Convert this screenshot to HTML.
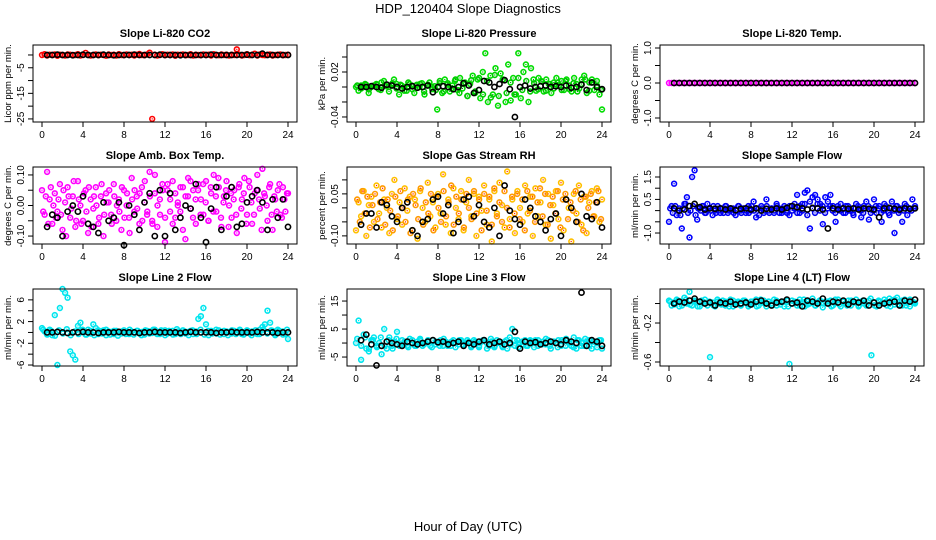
<!DOCTYPE html>
<html><head><meta charset="utf-8"><style>
body{margin:0;background:#fff}
svg{display:block;font-family:"Liberation Sans",Arial,sans-serif}
</style></head><body>
<svg id="chart" width="936" height="540" viewBox="0 0 936 540" xmlns="http://www.w3.org/2000/svg">
<text x="468" y="13" text-anchor="middle" font-size="13">HDP_120404  Slope Diagnostics</text>
<text x="468" y="531" text-anchor="middle" font-size="13">Hour of Day (UTC)</text>
</svg>
<script>
// ---- data ----
const xTicks=[0,4,8,12,16,20,24];
const co2Color=[0,0.3,-0.2,0.1,0,0.2,-0.3,0.1,0,-0.2,0.2,0.1,-0.1,0,0.3,-0.2,0,0.8,0.1,-0.2,0,0.2,-0.1,0.1,0,-0.3,0.2,0,0.1,-0.2,0.3,0,-0.1,0.2,0,0.1,-0.2,0.1,0.4,0,-0.1,0.2,0.9,-25,0.1,-0.2,0,0.3,-0.1,0.1,0,0.2,-0.3,0.1,0,0.2,-0.1,0,0.3,-0.2,0.1,0,-0.1,0.2,0,0.1,-0.2,0.3,0,-0.1,0.2,0,0.1,-0.2,0.1,0,2.2,0.1,-0.2,0,0.3,-0.1,0.1,0.5,-0.2,0.2,0,-0.1,0.1,0.2,-0.2,0,0.1,0.2,-0.1,0,0.1];
const co2Black=[0,0,0.1,0,0,-0.1,0,0.1,0,0,0,0.1,0,-0.1,0,0,0,0.1,0,0,0,0,0.1,0,0,0,-0.1,0,0,0,0,0,0.1,0,0,0,0,0,0,0.1,0,0,0.5,0,0,0,0,0];
const presColor=[0,-0.005,0.002,0,0.003,-0.008,0,0.002,0.004,-0.003,0.006,0.008,0.001,-0.006,0.003,0.01,0.004,-0.01,0.002,0,-0.005,0.004,0.002,-0.008,0.003,0,0.005,-0.01,0.002,0.006,-0.003,0.001,-0.03,0.005,-0.008,0.01,0.003,-0.006,0.002,0.008,-0.004,0.012,-0.002,0.006,-0.012,0.004,0.015,-0.008,0.01,-0.015,0.02,0.045,-0.02,0.015,-0.01,0.025,-0.025,0.018,0.01,-0.02,0.03,-0.018,0.012,-0.01,0.045,-0.015,0.02,0.03,-0.02,0.025,0.01,-0.005,0.012,0.008,-0.006,0.01,0.004,-0.008,0.006,0.012,0.002,0.008,-0.004,0.01,0.002,-0.006,0.012,0.004,-0.002,0.01,0.015,-0.008,0.006,0.01,-0.004,0.008,-0.01,-0.03];
const presColorB=[0.002,-0.002,0.004,-0.003,0.001,0.003,-0.004,0.002,0,0.005,-0.002,0.003,-0.005,0.006,-0.003,0.002,0.004,-0.006,0.003,0,-0.004,0.008,-0.006,0.005,-0.002,0.01,-0.008,0.004,-0.012,0.009,-0.006,0.012,-0.01,0.008,-0.014,0.016,-0.012,0.01,-0.008,0.006,-0.01,0.012,-0.004,0.008,-0.006,0.005,-0.003,0.007,-0.005,0.004,-0.002,0.006,-0.004,0.008,-0.003,0.005,-0.006,0.004,0.01,-0.005,0.006,0.002,-0.004];
const presBlack=[0,0,0.001,0,-0.001,0.003,0.002,0,-0.002,0,0.001,-0.001,0,0.002,-0.007,0,0.001,0,-0.003,0,0.005,0.002,-0.008,-0.004,0.008,0.006,0,0.004,0.009,-0.003,-0.04,0,0.002,-0.002,0,0.001,0.002,0,0.001,0,0.002,-0.001,0,0.003,-0.004,0.006,0,-0.003];
const tempColor=[0,0,0,0,0,0,0,0,0,0,0,0,0,0,0,0,0,0,0,0,0,0,0,0,0,0,0,0,0,0,0,0,0,0,0,0,0,0,0,0,0,0,0,0,0,0,0,0,0,0,0,0,0,0,0,0,0,0,0,0,0,0,0,0,0,0,0,0,0,0,0,0,0,0,0,0,0,0,0,0,0,0,0,0,0,0,0,0,0,0,0,0,0,0,0,0,0];
const tempBlack=[0,0,0,0,0,0,0,0,0,0,0,0,0,0,0,0,0,0,0,0,0,0,0,0,0,0,0,0,0,0,0,0,0,0,0,0,0,0,0,0,0,0,0,0,0,0,0,0];
const boxColor=[0.05,-0.03,0.11,0.02,-0.06,0.04,-0.02,0.07,-0.08,0.01,0.06,-0.04,0.03,-0.07,0.08,0,-0.05,0.05,-0.09,0.02,-0.01,0.06,-0.06,0.03,-0.1,0.04,0.01,-0.03,0.07,-0.05,0.02,-0.08,0.05,0,-0.04,0.09,-0.02,0.03,-0.06,0.06,0.01,-0.03,0.11,-0.05,0.04,-0.07,0.02,0.07,-0.12,0.05,-0.02,0.08,-0.04,0.01,0.06,-0.08,0.03,0.09,-0.01,0.05,-0.06,0.07,0.02,-0.03,0.08,-0.05,0.04,0.1,-0.02,0.06,-0.07,0.03,0.08,0,-0.04,0.05,-0.09,0.07,0.02,0.09,-0.03,0.06,-0.06,0.04,0.1,-0.01,0.12,0.03,-0.05,0.07,-0.08,0.02,0.05,-0.03,0.06,-0.02,0.04];
const boxColorB=[-0.02,0.03,-0.06,0.06,0,-0.04,0.02,-0.03,0.05,-0.1,0.03,-0.01,0.08,-0.05,0.02,-0.06,0.04,-0.02,0.06,-0.07,0.03,0,-0.04,0.07,-0.03,0.01,0.05,-0.06,0.03,0,-0.02,0.06,-0.04,0.04,-0.09,0.02,0.05,-0.01,0.04,-0.05,0.08,-0.02,0.03,-0.06,0.1,0,-0.03,0.05,-0.04,0.07,0.02,-0.06,0.04,0,-0.02,0.06,-0.11,0.03,0.08,-0.04,0.02,0.05,-0.03,0.07,0.01,-0.05,0.06,-0.02,0.03,0.09,-0.04,0.01,0.05,-0.07,0.04,0.02,-0.03,0.06,-0.01,0.04,-0.06,0.08,0.01,-0.03,0.05,0.02,-0.08,0.04,0,0.06,-0.03,0.03,-0.02,0.07,-0.04,0.02,0.04];
const boxBlack=[-0.07,-0.03,-0.04,-0.1,-0.02,0,-0.02,0.03,-0.06,-0.07,-0.09,0.01,-0.05,-0.04,0.01,-0.13,0,-0.03,-0.08,0.01,0.04,-0.1,0.05,-0.1,0.04,-0.08,-0.04,0,-0.01,0.07,-0.04,-0.12,-0.01,0.06,-0.08,0.03,0.06,-0.07,-0.06,0.01,0.03,0.05,0.01,-0.08,0.02,-0.04,0.02,-0.07];
const rhColor=[-0.08,0.02,-0.03,0.06,-0.1,0.01,0.04,-0.05,0.08,-0.02,-0.07,0.03,0,-0.09,0.05,0.1,-0.04,0.02,-0.06,0.07,-0.01,0.04,-0.08,0.03,-0.11,0.06,0,-0.05,0.09,-0.03,0.02,-0.07,0.05,-0.02,0.12,-0.06,0.03,-0.09,0.07,0,-0.04,0.06,-0.08,0.02,0.1,-0.03,0.05,-0.1,0.04,-0.01,0.08,-0.06,0.03,-0.12,0.06,-0.02,0.09,0.01,-0.07,0.13,-0.04,0.03,-0.09,0.06,0,-0.05,0.08,-0.02,0.04,-0.1,0.07,-0.03,0.02,0.1,-0.06,0.05,-0.11,0.01,0.06,-0.04,0.09,-0.08,0.03,0,-0.12,0.05,-0.02,0.08,-0.06,0.04,-0.09,0.02,0.06,-0.03,0.07,-0.05,0.03];
const rhColorB=[0.03,-0.05,0.06,-0.02,0.04,-0.07,0.01,0.05,-0.04,0.02,0.07,-0.06,0.03,-0.01,-0.08,0.04,-0.03,0.06,0,-0.05,0.03,-0.09,0.05,0.01,-0.04,0.07,-0.06,0.02,-0.02,0.05,-0.08,0.04,0,-0.05,0.06,-0.03,0.02,0.08,-0.06,0.04,-0.02,0.03,-0.07,0.05,0,-0.04,0.06,-0.02,0.03,-0.08,0.05,-0.01,0.04,-0.06,0.07,-0.03,0.02,-0.05,0.06,0,-0.07,0.04,-0.02,0.05,-0.04,0.03,-0.08,0.06,-0.01,0.04,-0.05,0.02,0.07,-0.03,0.05,-0.06,0.01,0.04,-0.02,0.06,-0.07,0.03,0.05,-0.04,0.02,-0.01,0.06,-0.05,0.03,-0.08,0.04,0,0.05,-0.03,0.02,0.06,-0.04];
const rhBlack=[-0.06,-0.02,-0.02,-0.07,0.02,0.01,-0.03,-0.05,0,0.02,-0.08,-0.1,-0.05,-0.04,0.03,0.04,-0.02,0.01,-0.09,-0.05,0.03,0.04,-0.03,0.01,-0.05,-0.07,0,-0.1,0.08,-0.01,-0.04,-0.06,0.03,0,-0.03,-0.05,-0.08,-0.04,-0.02,-0.1,0.03,0,-0.05,0.05,-0.03,-0.04,0.02,-0.07];
const flowColor=[-0.5,0.2,1.2,-0.2,0.1,-0.8,0.3,0.6,-1.2,1.5,1.8,-0.4,0.1,0.2,-0.1,0.3,0.1,-0.2,0,0.2,-0.1,0.1,0.2,-0.1,0,0.1,-0.2,0.2,0,0.1,-0.1,0.2,0,0.4,-0.3,0.1,0.2,-0.1,0.5,0,0.1,-0.1,0.3,0.1,-0.1,0.2,0,-0.2,0.2,0.1,0.7,-0.1,0.3,0.8,0.9,-0.8,0.6,0.7,0.5,0.3,-0.6,0.6,0.4,0.7,0.2,-0.5,0.1,0.3,-0.1,0.2,0,0.1,-0.2,0.3,0.1,-0.3,0.2,0.4,-0.4,0.1,0.5,-0.1,0.2,-0.5,0.3,0.1,-0.2,0.4,-1.0,0.2,0,-0.5,0.3,-0.2,0.1,0.5,0.2];
const flowColorB=[0.1,-0.1,0.2,0,-0.2,0.1,0.3,-0.1,0,0.2,-0.2,0.1,0,0.2,-0.1,0.1,0,0.2,-0.1,0,0.1,-0.1,0.2,0,0.1,-0.1,0,0.2,-0.1,0.1,0,-0.1,0.2,0,0.1,-0.2,0.1,0,0.2,-0.1,0.1,0,0.2,-0.1,0,0.1,-0.1,0.2,0,0.3,-0.1,0.2,0,0.3,-0.2,0.4,0.1,-0.1,0.3,0,0.2,-0.1,0.1,0.2,0,-0.1,0.2,0,0.1,-0.1,0.2,0,-0.1,0.1,0.2,0,-0.1,0.1,0.2,-0.1,0,0.2,0.1,-0.1,0,0.2,-0.1,0.1,0,0.2,-0.1,0.1,0,0.2,0.1,0,0.1];
const flowBlack=[0.1,0,0.05,0.2,0.3,0.15,0.05,0.1,0.08,0.1,0.05,0.1,0.02,0.08,0.1,0.05,0.1,0,0.08,0.05,0.1,0.05,0.12,0.2,0.15,0.1,0.05,0.12,0.1,0.05,-0.8,0.1,0.05,0.1,0.08,0.1,0.05,0.1,0.08,0.05,-0.3,0.1,0.12,0.08,0.05,0.1,0.08,0.1];
const l2Color=[0.8,0.2,-0.3,0.5,-0.5,3.2,-6,4.5,8,7.3,6.4,-3.5,-4.2,-5,1.2,1.8,0.3,-0.4,0.5,-0.2,1.5,0.8,-0.3,0.2,0.4,-0.5,0.2,0.1,-0.3,0.3,0,-0.2,0.4,0.1,-0.3,0.2,0,0.3,-0.2,0.1,-0.4,0.3,0.2,-0.1,0.5,0,-0.3,0.2,0.4,-0.2,0.1,0.3,-0.3,0.2,0,0.4,-0.2,0.1,0.3,-0.3,0.2,2.5,3,4.5,1.5,-0.5,0.3,0.1,-0.2,0.4,0,-0.3,0.2,0.1,-0.2,0.3,0,0.2,-0.3,0.1,0.4,-0.2,0.2,0,-0.3,0.5,1,1.5,4,1.8,0.3,-0.2,0.5,0,0.2,-0.3,-1.2];
const l2ColorB=[0.5,-0.4,0.3,-0.6,0.4,-0.2,0.6,-0.5,0.2,-0.3,0.5,-0.4,0.3,-0.5,0.4,-0.2,0.5,-0.4,0.3,-0.6,0.2,-0.3,0.5,-0.4,0.3,-0.5,0.4,-0.2,0.5,-0.3,0.4,-0.5,0.3,-0.4,0.6,-0.3,0.2,-0.5,0.4,-0.3,0.5,-0.4,0.3,-0.2,0.5,-0.4,0.3,-0.5,0.4,-0.3,0.5,-0.4,0.3,-0.5,0.4,-0.3,0.5,-0.2,0.4,-0.5,0.3,-0.4,0.5];
const l2Black=[0,0,0.1,0,-0.1,0,0,0.1,0,0,-0.1,0,0,0,0.1,0,0,0,-0.1,0,0,0.1,0,0,0,0,-0.1,0,0.1,0,0,0,0,-0.1,0,0,0.1,0,0,0,0,0.1,0,0,0,-0.1,0,0];
const l3Color=[0,8,-6,3,-2,-3,1,2,-1,0,-4,5,-2,2,-1,0.5,4,-1,1,0,-1,1.5,0,-1,0.5,1,-1,0,0.5,-1,1,-0.5,0,1,-1,0.5,0,-1,1,0,-0.5,1,-1,0,0.5,-1,1,0,-1.5,0.5,1,0,-1,0.5,-1.5,1,0,-1,0.5,-2,2,5,-1,1,0,-0.5,1,-1,0.5,0,1,-1,0,0.5,-0.5,1,-2,0.5,0,1,-1,0.5,1.5,0,-1,2,-2,1,0,-1,0.5,1,-2,0.5,0,1,-2];
const l3ColorB=[1.5,-1,2,-2,1,-1.5,2,-1,1,-2,1.5,-1,0.5,-1.5,1,-1,1.5,-0.5,1,-1.5,0.5,-1,1.5,-1,0.5,-1.5,1,-0.5,1,-1.5,0.5,-1,1,-2,1.5,-1,0.5,-1.5,1,-0.5,1,-1.5,0.5,-1,1,-1.5,1,-0.5,1.5,-1,0.5,-1.5,1,-1,0.5,-1.5,1,-1,1.5,-1,0.5,-1.5,1];
const l3Black=[1,3,-0.5,-8,-1,0.5,0,-0.5,-1,0.5,0,-0.5,0,0.5,1,0.3,0.5,-0.5,0,0.5,-1,0,-0.5,0.5,1,-0.5,0,0.5,-0.5,0,4,-2,0.5,0,0.3,-0.5,0,0.5,0,-0.5,1,0.5,0,18,-1,1,0.5,-1];
const l4Color=[0.03,-0.02,0.01,0.04,-0.03,0.02,0.06,0,0.12,-0.02,0.03,0.01,-0.03,0.02,0.04,-0.02,-0.55,0.01,-0.03,0.02,0,0.03,-0.02,0.01,0.04,-0.03,0,0.02,-0.02,0.03,0.01,-0.03,0.02,0,0.04,-0.02,0.01,0.03,-0.03,0.02,0,0.04,-0.02,0.01,0.02,-0.03,0.03,-0.62,0,0.02,-0.02,0.04,0.01,-0.03,0.02,0,0.05,-0.02,0.01,0.03,-0.04,0.02,0,0.03,-0.02,0.01,0.04,-0.03,0.02,0,0.03,-0.02,0.01,0.04,-0.03,0.02,0,-0.02,0.03,-0.53,0.01,-0.03,0.02,0,0.04,-0.02,0.05,0.03,-0.01,0.06,0.02,-0.02,0.04,0.01,-0.03,0.02,0];
const l4ColorB=[0.02,-0.01,0.03,-0.02,0.04,-0.01,0.02,-0.03,0.03,0,0.02,-0.02,0.04,-0.01,0.02,-0.03,0.03,0.01,-0.02,0.03,-0.01,0.02,-0.03,0.04,0,0.02,-0.02,0.03,-0.01,0.02,-0.03,0.03,0.01,-0.02,0.04,-0.01,0.02,-0.02,0.03,0,0.02,-0.03,0.04,-0.01,0.02,-0.02,0.03,0.01,-0.02,0.03,-0.01,0.05,-0.02,0.03,0,0.02,-0.03,0.04,-0.01,0.03,-0.02,0.04,0.01];
const l4Black=[0,0.02,0.01,0.03,0.05,0.02,0,0.01,-0.02,0.01,0,0.02,-0.01,0,0.01,-0.01,0.02,0.03,0,-0.02,0.01,0.02,0.04,0,0.01,-0.03,0.03,0.02,0,0.05,0,0.02,0.01,0.03,-0.01,0.02,0.01,0.03,-0.02,0.01,-0.02,0,0.01,0.02,-0.02,0.03,0.02,0.04];
const panelTitles=["Slope Li-820 CO2","Slope Li-820 Pressure","Slope Li-820 Temp.","Slope Amb. Box Temp.","Slope Gas Stream RH","Slope Sample Flow","Slope Line 2 Flow","Slope Line 3 Flow","Slope Line 4 (LT) Flow"];
const yTitles=["Licor ppm per min.","kPa per min.","degrees C per min.","degrees C per min.","percent per min.","ml/min per min.","ml/min per min.","ml/min per min.","ml/min per min."];
const yTicks=[[0,-5,-10,-15,-20,-25],[0.04,0.02,0,-0.02,-0.04],[1,0.5,0,-0.5,-1],[0.1,0.05,0,-0.05,-0.1],[0.1,0.05,0,-0.05,-0.1],[1.5,1,0.5,0,-0.5,-1],[6,4,2,0,-2,-4,-6],[15,10,5,0,-5],[0,-0.2,-0.4,-0.6]];
const yTickLabels=[["","-5","","-15","","-25"],["","0.02","","","-0.04"],["1.0","","0.0","","-1.0"],["0.10","","0.00","","-0.10"],["","0.05","","","-0.10"],["1.5","","0.5","","","-1.0"],["6","","2","","-2","","-6"],["15","","5","","-5"],["","-0.2","","-0.6"]];

// ---- layout ----
const NS="http://www.w3.org/2000/svg";
const svg=document.getElementById('chart');
const cols=[[33,297],[347,611],[660,924]];
const rows=[[45,122],[167,244],[289,366]];
const yDomains=[[-26.2,3.9],[-0.0467,0.056],[-1.114,1.086],[-0.126,0.126],[-0.129,0.146],[-1.49,1.946],[-6.18,8.0],[-8.2,19.3],[-0.641,0.149]];
const innerColors=['#ff0000','#00aa00','#ff00ff','#ff00ff','#ff2000','#0000ff','#00e5ee','#00e5ee','#00e5ee'];
const series=[
 [[co2Color,'#ff0000'],[co2Black,'#000']],
 [[presColor,'#00dd00'],[presColorB,'#00cc00'],[presBlack,'#000']],
 [[tempColor,'#ff00ff'],[tempBlack,'#000']],
 [[boxColor,'#ff00ff'],[boxColorB,'#ff00ff'],[boxBlack,'#000']],
 [[rhColor,'#ffc000'],[rhColorB,'#ff9a00'],[rhBlack,'#000']],
 [[flowColor,'#0000ff'],[flowColorB,'#0000ee'],[flowBlack,'#000']],
 [[l2Color,'#00e5ee'],[l2ColorB,'#00e5ee'],[l2Black,'#000']],
 [[l3Color,'#00e5ee'],[l3ColorB,'#00e5ee'],[l3Black,'#000']],
 [[l4Color,'#00e5ee'],[l4ColorB,'#00e5ee'],[l4Black,'#000']]
];
function mk(tag,attrs,parent){const e=document.createElementNS(NS,tag);for(const k in attrs)e.setAttribute(k,attrs[k]);(parent||svg).appendChild(e);return e;}
for(let p=0;p<9;p++){
  const [L,R]=cols[p%3],[T,B]=rows[Math.floor(p/3)];
  const g=mk('g',{});
  
  
  const x0=L+9,x1=R-9;
  const xs=h=>x0+(x1-x0)*h/24;
  const [d0,d1]=yDomains[p];
  const ys=v=>B-(v-d0)/(d1-d0)*(B-T);
  series[p].forEach((s,si)=>{
    const vals=s[0],col=s[1],isBlack=col==='#000';
    const hs=isBlack?0.5:(si===1?0.12:0),he=isBlack?24:(si===1?23.9:24);
    vals.forEach((v,i)=>{
      const h=hs+(he-hs)*i/(vals.length-1);
      const cx=xs(h),cy=ys(v);
      const c=mk('circle',{cx:cx.toFixed(1),cy:cy.toFixed(1),r:isBlack?2.6:2.4,fill:'none',stroke:col,'stroke-width':1.6},g);
      
      
      if(!isBlack){
        const d=mk('rect',{x:(cx-0.6).toFixed(1),y:(cy-0.6).toFixed(1),width:1.2,height:1.2,fill:innerColors[p]},g);
        
        
      }
    });
  });
  const box=mk('rect',{x:L,y:T,width:R-L,height:B-T,fill:'none',stroke:'#000','stroke-width':1},g);
  
  
  const t=mk('text',{x:(L+R)/2,y:T-8,'text-anchor':'middle','font-size':11,'font-weight':'bold'},g);
  t.textContent=panelTitles[p];
  
  
  mk('line',{x1:xs(0),x2:xs(24),y1:B,y2:B,stroke:'#000'},g);
  xTicks.forEach(h=>{
    mk('line',{x1:xs(h),x2:xs(h),y1:B,y2:B+5,stroke:'#000'},g);
    const tl=mk('text',{x:xs(h),y:B+16,'text-anchor':'middle','font-size':10},g);
    tl.textContent=h;
    
    
  });
  const yt=yTicks[p];
  mk('line',{x1:L,x2:L,y1:ys(yt[0]),y2:ys(yt[yt.length-1]),stroke:'#000'},g);
  yt.forEach((v,i)=>{
    mk('line',{x1:L-5,x2:L,y1:ys(v),y2:ys(v),stroke:'#000'},g);
    if(yTickLabels[p][i]){
      const yl=mk('text',{x:L-9,y:ys(v),'text-anchor':'middle','font-size':10,transform:`rotate(-90 ${L-9} ${ys(v)})`},g);
      yl.textContent=yTickLabels[p][i];
      
      
    }
  });
  const ymid=(T+B)/2;
  const ytt=mk('text',{x:L-22,y:ymid,'text-anchor':'middle','font-size':9.5,transform:`rotate(-90 ${L-22} ${ymid})`},g);
  ytt.textContent=yTitles[p];
  
  
}
</script>
</body></html>
